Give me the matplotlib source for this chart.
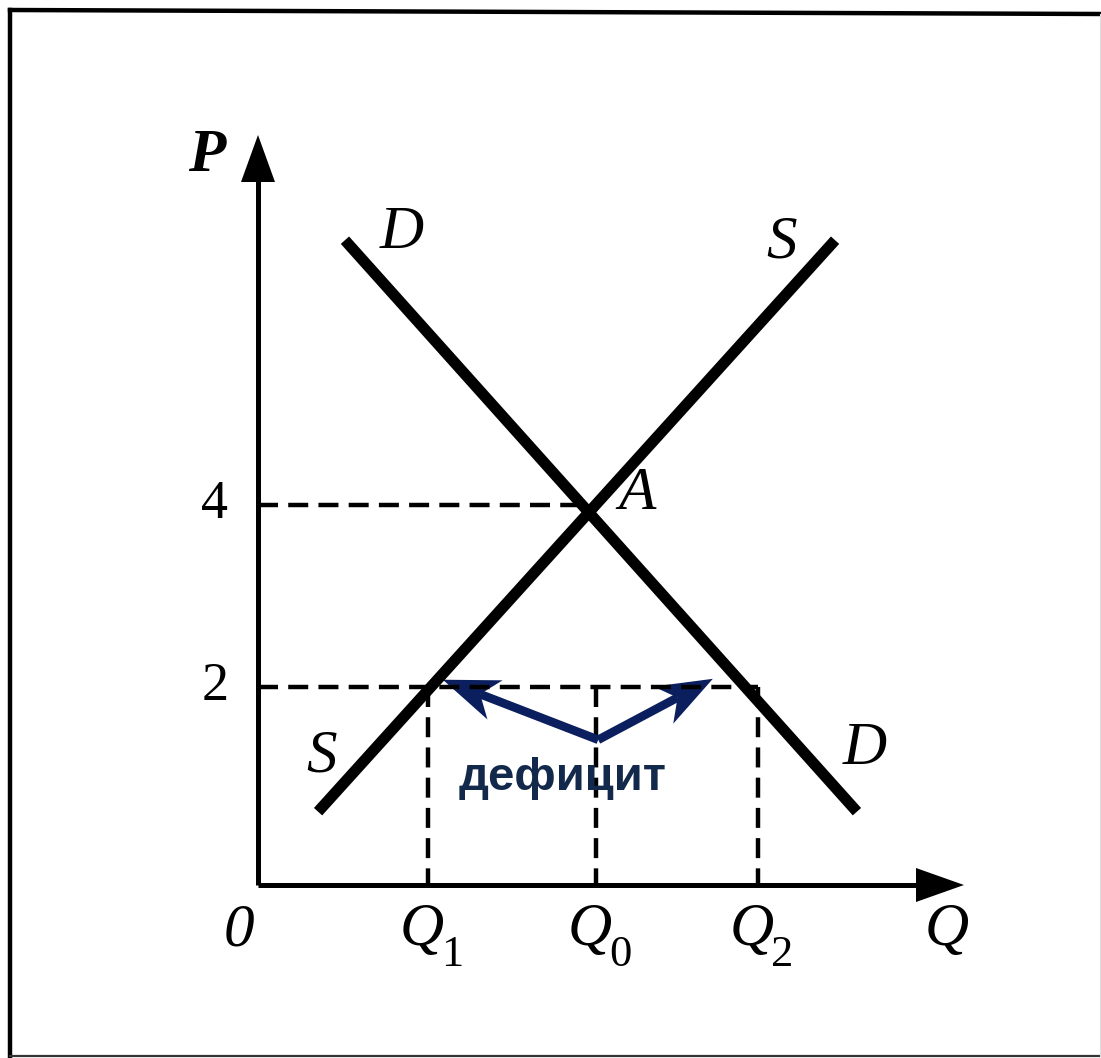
import numpy as np
import matplotlib
matplotlib.use("Agg")
import matplotlib.pyplot as plt
from matplotlib.lines import Line2D
from matplotlib.patches import Polygon

# supply / demand curves (Q, P)
s_q = [1.43, 13.74]
s_p = [0.63, 6.91]
d_q = [2.07, 14.26]
d_p = [6.91, 0.63]

# reference levels
prices = [4, 2]
price_labels = ['4', '2']
q_marks = [4.05, 8.05, 11.9]          # Q1, Q0, Q2
q_subs = ['1', '0', '2']
q_eq = 7.9                             # point A
q_short = [4.40, 10.83]                # arrow tips (shortage)
p_short = [2.08, 2.09]
arrow_root = (8.1, 1.42)

# pixel scale of the drawing (px per unit) and origin
W, H = 1101, 1058
X0, PX_Q = 258, 42.0
Y0, PX_P = 869, 91.0
p_axis = (Y0 - 885) / PX_P

def qx(px):
    return (px - X0) / PX_Q

def py(px):
    return (Y0 - px) / PX_P

fig = plt.figure(figsize=(W / 100, H / 100), dpi=100)
ax = fig.add_axes([0, 0, 1, 1])
ax.set_xlim(qx(0), qx(W))
ax.set_ylim(py(H), py(0))
ax.axis('off')

# frame around the picture
def fline(x, y, lw, c='k'):
    fig.add_artist(Line2D([v / W for v in x], [1 - v / H for v in y],
                          transform=fig.transFigure, lw=lw, color=c))
fline([10, 1101], [10, 14], 3.2)
fline([10, 10], [10, 1056], 3.2)
fline([10, 1101], [1056, 1056], 1.6, '#333333')
fline([1100, 1100], [14, 1056], 0.8, '#dddddd')

# axes
ax.plot([0, 0], [p_axis, py(175)], color='k', lw=3.6, solid_capstyle='butt')
ax.plot([0, qx(920)], [p_axis, p_axis], color='k', lw=3.6, solid_capstyle='butt')
ax.add_patch(Polygon([[0, py(135)], [-17 / PX_Q, py(182)], [17 / PX_Q, py(182)]],
                     closed=True, color='k', lw=0))
ax.add_patch(Polygon([[qx(964), p_axis], [qx(916), p_axis + 17 / PX_P],
                      [qx(916), p_axis - 17 / PX_P]], closed=True, color='k', lw=0))

# dashed guides
dash = dict(color='k', lw=3.2, dashes=(4.5, 2.3))
ax.plot([0, q_eq], [prices[0], prices[0]], **dash)
ax.plot([0, q_marks[2]], [prices[1], prices[1]], **dash)
for q in q_marks:
    ax.plot([q, q], [prices[1], p_axis], **dash)

# curves
ax.plot(s_q, s_p, color='k', lw=8, solid_capstyle='butt')
ax.plot(d_q, d_p, color='k', lw=8, solid_capstyle='butt')

# shortage arrows (stealth heads, sized in pixels)
navy = '#0b1f5e'
L, hw, notch = 56, 21, 16
for q, p in zip(q_short, p_short):
    dx = (q - arrow_root[0]) * PX_Q
    dy = (p - arrow_root[1]) * PX_P
    n = np.hypot(dx, dy)
    ux, uy = dx / n, dy / n
    vx, vy = -uy, ux
    pts = [(0, 0), (-L * ux + hw * vx, -L * uy + hw * vy),
           (-(L - notch) * ux, -(L - notch) * uy),
           (-L * ux - hw * vx, -L * uy - hw * vy)]
    ax.add_patch(Polygon([[q + a / PX_Q, p + b / PX_P] for a, b in pts],
                         closed=True, color=navy, lw=0))
    ax.plot([arrow_root[0], q - (L - notch) * ux / PX_Q],
            [arrow_root[1], p - (L - notch) * uy / PX_P],
            color=navy, lw=6.2, solid_capstyle='butt')
ax.text(qx(563), py(790), 'дефицит', ha='center', va='baseline',
        fontsize=34, fontweight='bold', color='#13294b', family='Liberation Sans')

# labels
serif = dict(family='Liberation Serif', style='italic', color='k')
ax.text(qx(207), py(156), 'P', ha='center', va='center', fontsize=44, fontweight='bold', **serif)
ax.text(qx(402), py(233), 'D', ha='center', va='center', fontsize=44, **serif)
ax.text(qx(782), py(243), 'S', ha='center', va='center', fontsize=44, **serif)
ax.text(qx(637), py(494), 'A', ha='center', va='center', fontsize=44, **serif)
ax.text(qx(322), py(757), 'S', ha='center', va='center', fontsize=44, **serif)
ax.text(qx(865), py(749), 'D', ha='center', va='center', fontsize=44, **serif)
ax.text(qx(947), py(945), 'Q', ha='center', va='baseline', fontsize=44, **serif)
ax.text(qx(239), py(945), '0', ha='center', va='baseline', fontsize=44, **serif)

for p, lab in zip(prices, price_labels):
    ax.text(qx(215), p, lab, ha='center', va='center', fontsize=39,
            family='Liberation Serif', color='k')

for q, sub in zip(q_marks, q_subs):
    ax.text(q - 6 / PX_Q, py(945), 'Q', ha='center', va='baseline', fontsize=44, **serif)
    ax.text(q + 24 / PX_Q, py(966), sub, ha='center', va='baseline', fontsize=32,
            family='Liberation Serif', color='k')

fig.savefig('out.png', dpi=100, facecolor='white')
